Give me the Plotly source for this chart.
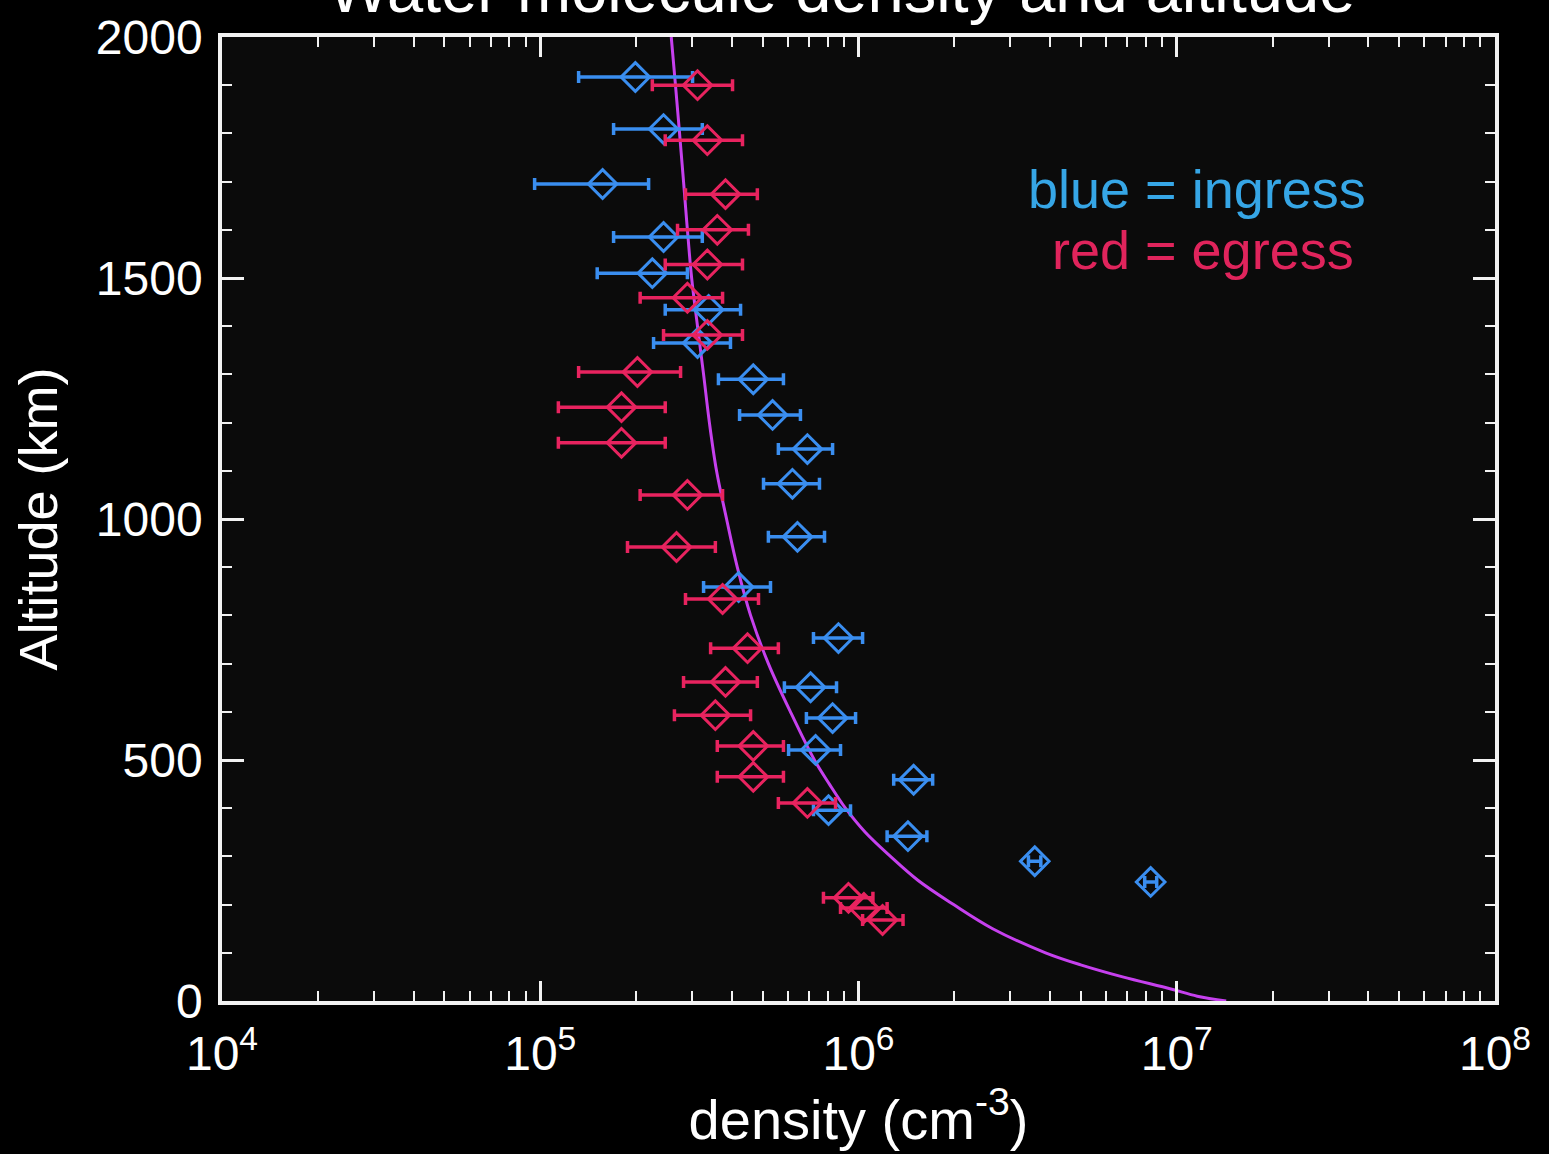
import plotly.graph_objects as go

# Ingress (blue) measurements: altitude (km), density (cm^-3) and error-bar limits
alt_ingress = [1917, 1809, 1695, 1585, 1510, 1434, 1365, 1290, 1216, 1145, 1073,
               963, 859, 753, 651, 587, 521, 459, 396, 342, 290, 247]
n_ingress = [1.99e5, 2.44e5, 1.57e5, 2.44e5, 2.25e5, 3.38e5, 3.12e5, 4.67e5, 5.37e5, 6.91e5, 6.20e5,
             6.43e5, 4.20e5, 8.65e5, 7.07e5, 8.29e5, 7.33e5, 1.49e6, 8.05e5, 1.43e6, 3.58e6, 8.28e6]
n_ingress_lo = [1.32e5, 1.70e5, 9.6e4, 1.70e5, 1.51e5, 2.47e5, 2.27e5, 3.63e5, 4.23e5, 5.60e5, 5.03e5,
                5.21e5, 3.26e5, 7.22e5, 5.85e5, 6.86e5, 6.03e5, 1.29e6, 7.22e5, 1.23e6, 3.42e6, 7.93e6]
n_ingress_hi = [3.01e5, 3.23e5, 2.19e5, 3.23e5, 2.90e5, 4.26e5, 3.96e5, 5.81e5, 6.57e5, 8.29e5, 7.54e5,
                7.82e5, 5.29e5, 1.03e6, 8.53e5, 9.79e5, 8.78e5, 1.71e6, 9.44e5, 1.64e6, 3.74e6, 8.65e6]

# Egress (red) measurements
alt_egress = [1900, 1786, 1674, 1600, 1528, 1459, 1382, 1305, 1232, 1158, 1050,
              942, 834, 732, 662, 593, 529, 465, 411, 214, 193, 168]
n_egress = [3.12e5, 3.35e5, 3.82e5, 3.60e5, 3.35e5, 2.90e5, 3.35e5, 2.02e5, 1.80e5, 1.80e5, 2.90e5,
            2.68e5, 3.74e5, 4.48e5, 3.82e5, 3.55e5, 4.67e5, 4.67e5, 6.91e5, 9.30e5, 1.04e6, 1.19e6]
n_egress_lo = [2.25e5, 2.47e5, 2.86e5, 2.70e5, 2.47e5, 2.06e5, 2.44e5, 1.32e5, 1.14e5, 1.14e5, 2.06e5,
               1.88e5, 2.86e5, 3.43e5, 2.82e5, 2.64e5, 3.60e5, 3.60e5, 5.60e5, 7.76e5, 8.78e5, 1.03e6]
n_egress_hi = [4.02e5, 4.32e5, 4.81e5, 4.51e5, 4.32e5, 3.74e5, 4.32e5, 2.76e5, 2.47e5, 2.47e5, 3.74e5,
               3.55e5, 4.85e5, 5.60e5, 4.81e5, 4.58e5, 5.81e5, 5.81e5, 8.47e5, 1.11e6, 1.23e6, 1.38e6]

# Model density profile
alt_model = [2000, 1900, 1800, 1700, 1600, 1500, 1400, 1300, 1200, 1100, 1000, 900, 800, 700,
             600, 500, 450, 400, 350, 300, 250, 200, 150, 100, 75, 50, 25, 10, 0]
n_model = [2.58e5, 2.66e5, 2.74e5, 2.82e5, 2.90e5, 2.99e5, 3.12e5, 3.26e5, 3.40e5, 3.58e5, 3.85e5,
           4.16e5, 4.58e5, 5.21e5, 6.11e5, 7.27e5, 8.10e5, 9.10e5, 1.05e6, 1.26e6, 1.54e6, 1.99e6,
           2.64e6, 3.87e6, 4.99e6, 6.76e6, 9.58e6, 1.16e7, 1.43e7]

x_tick_vals = [1e4, 1e5, 1e6, 1e7, 1e8]
x_tick_text = ["10<sup>4</sup>", "10<sup>5</sup>", "10<sup>6</sup>", "10<sup>7</sup>", "10<sup>8</sup>"]
y_tick_vals = [0, 500, 1000, 1500, 2000]

BLUE = "#3a8ef0"
RED = "#e8235f"
CURVE = "#c640ee"
AXIS = "#f2f2f2"
FONT = "Liberation Sans, Arial, sans-serif"

x_minor = [k * 10 ** e for e in range(4, 8) for k in range(2, 10)]


def err_plus(c, hi):
    return [h - v for v, h in zip(c, hi)]


def err_minus(c, lo):
    return [v - l for v, l in zip(c, lo)]


fig = go.Figure()

fig.add_trace(go.Scatter(
    x=n_model, y=alt_model, mode="lines",
    line=dict(color=CURVE, width=3, shape="spline", smoothing=1.0),
    hoverinfo="skip", showlegend=False,
))

for alt, n, lo, hi, col in [
    (alt_ingress, n_ingress, n_ingress_lo, n_ingress_hi, BLUE),
    (alt_egress, n_egress, n_egress_lo, n_egress_hi, RED),
]:
    fig.add_trace(go.Scatter(
        x=n, y=alt, mode="markers",
        marker=dict(symbol="diamond-open", size=22, color=col, line=dict(width=3, color=col)),
        error_x=dict(type="data", symmetric=False,
                     array=err_plus(n, hi), arrayminus=err_minus(n, lo),
                     color=col, thickness=3.5, width=6),
        showlegend=False,
    ))

fig.add_annotation(
    text="Water molecule density and altitude",
    xref="paper", yref="paper", x=0.487, y=1.009, xanchor="center", yanchor="bottom",
    showarrow=False, font=dict(family=FONT, size=65, color="white"),
)
fig.add_annotation(
    text="blue = ingress", xref="paper", yref="paper", x=0.766, y=0.842,
    xanchor="center", yanchor="middle", showarrow=False,
    font=dict(family=FONT, size=54, color="#36a6e6"),
)
fig.add_annotation(
    text="red = egress", xref="paper", yref="paper", x=0.771, y=0.779,
    xanchor="center", yanchor="middle", showarrow=False,
    font=dict(family=FONT, size=54, color="#e0245c"),
)

fig.update_layout(
    width=1549, height=1154,
    margin=dict(l=222, r=54, t=37, b=153, autoexpand=False),
    paper_bgcolor="#000000", plot_bgcolor="#0b0b0b",
    font=dict(family=FONT, color="white"),
    xaxis=dict(
        type="log", range=[4, 8],
        tickmode="array", tickvals=x_tick_vals, ticktext=x_tick_text,
        tickfont=dict(size=48, color="white"),
        ticks="inside", ticklen=20, tickwidth=2.5, tickcolor=AXIS,
        minor=dict(tickmode="array", tickvals=x_minor, ticks="inside",
                   ticklen=10, tickwidth=2, tickcolor=AXIS, showgrid=False),
        showline=True, linewidth=3.5, linecolor=AXIS, mirror="allticks",
        showgrid=False, zeroline=False, ticklabelstandoff=8,
        title=dict(text="density (cm<sup>-3</sup>)", font=dict(size=56, color="white"), standoff=8),
    ),
    yaxis=dict(
        range=[0, 2000],
        tickmode="array", tickvals=y_tick_vals,
        tickfont=dict(size=48, color="white"),
        ticks="inside", ticklen=22, tickwidth=2.5, tickcolor=AXIS,
        minor=dict(dtick=100, ticks="inside", ticklen=10, tickwidth=2,
                   tickcolor=AXIS, showgrid=False),
        showline=True, linewidth=3.5, linecolor=AXIS, mirror="allticks",
        showgrid=False, zeroline=False, ticklabelstandoff=6,
        title=dict(text="Altitude (km)", font=dict(size=54, color="white"), standoff=22),
    ),
)

fig.write_html("out.html")
